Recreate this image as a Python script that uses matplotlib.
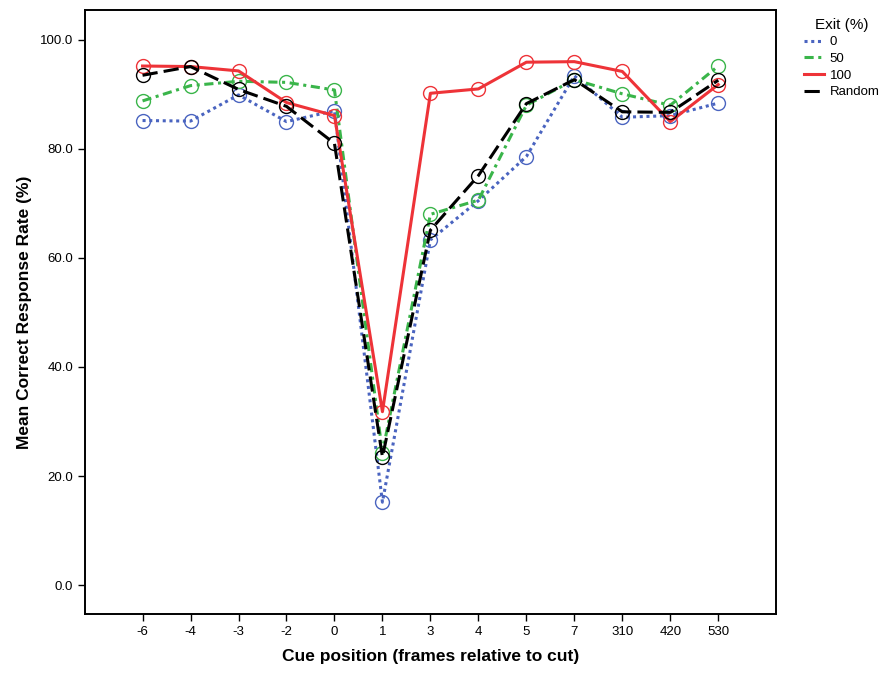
import numpy as np
import matplotlib
matplotlib.use("Agg")
import matplotlib.pyplot as plt

plt.rcParams["font.family"] = ["Liberation Sans", "DejaVu Sans"]

cue_positions = ["-6", "-4", "-3", "-2", "0", "1", "3", "4", "5", "7", "310", "420", "530"]
exit_0 = [85.2, 85.1, 89.9, 85.0, 87.0, 15.2, 63.3, 70.5, 78.6, 93.4, 85.8, 86.1, 88.4]
exit_50 = [88.8, 91.6, 92.4, 92.2, 90.8, 24.3, 68.0, 70.6, 88.0, 92.7, 90.1, 88.0, 95.2]
exit_100 = [95.2, 95.1, 94.3, 88.5, 86.1, 31.8, 90.2, 91.0, 95.9, 96.0, 94.2, 85.0, 91.8]
exit_random = [93.5, 95.1, 90.9, 87.8, 81.0, 23.5, 65.1, 75.1, 88.3, 92.7, 86.8, 86.7, 92.6]

series = [
    ("0", exit_0, "#4a64c0", (0, (1, 1.2))),
    ("50", exit_50, "#3ab54a", (0, (3, 1.5, 1, 1.5))),
    ("100", exit_100, "#ee3338", "-"),
    ("Random", exit_random, "black", (0, (5, 2))),
]

x = np.arange(len(cue_positions))

fig = plt.figure(figsize=(8.88, 6.75), dpi=100)
ax = fig.add_axes([0.0957, 0.0904, 0.778, 0.895])

for name, vals, col, ls in series:
    ax.plot(x, vals, color=col, linestyle=ls, linewidth=2.2, label=name,
            marker="o", markersize=10, markerfacecolor="none",
            markeredgecolor=col, markeredgewidth=1.0)

ax.set_xlim(-1.2, 13.2)
ax.set_ylim(-5.3, 105.5)
ax.set_xticks(x)
ax.set_xticklabels(cue_positions)
ax.set_yticks(np.arange(0, 101, 20))
ax.set_yticklabels([f"{v:.1f}" for v in np.arange(0, 101, 20)])
ax.tick_params(direction="out", length=5, width=1, labelsize=9.5, colors="black")
for s in ax.spines.values():
    s.set_linewidth(1.4)

ax.set_xlabel("Cue position (frames relative to cut)", fontsize=12.5, fontweight="bold", labelpad=8)
ax.set_ylabel("Mean Correct Response Rate (%)", fontsize=12.5, fontweight="bold", labelpad=6)

leg = fig.legend(title="Exit (%)", loc="upper left", bbox_to_anchor=(0.9055, 0.974),
                 frameon=False, fontsize=9.5, title_fontsize=11,
                 handlelength=1.5, handletextpad=0.45, labelspacing=0.34,
                 borderaxespad=0.0, borderpad=0.0)
for h in leg.legend_handles:
    h.set_marker("")

fig.savefig("out.png", dpi=100)
